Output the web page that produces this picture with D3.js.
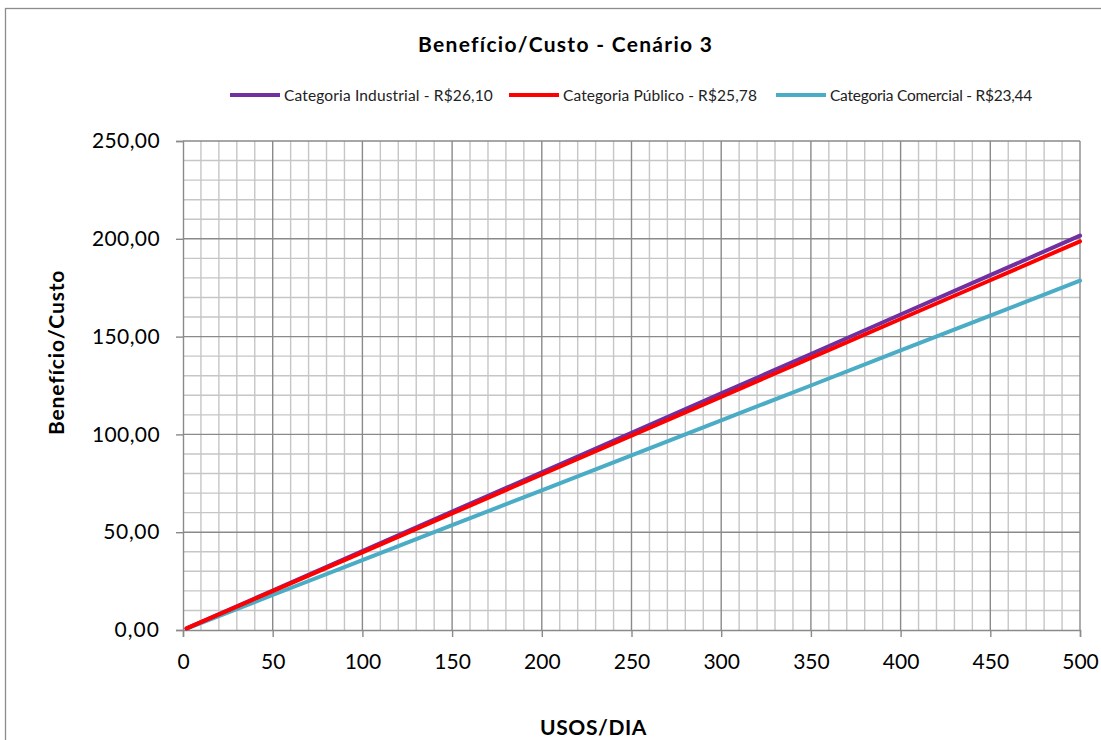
<!DOCTYPE html>
<html><head><meta charset="utf-8">
<script src="https://cdn.jsdelivr.net/npm/d3@7"></script>
<style>
html,body{margin:0;padding:0;background:#fff;}
svg{display:block;font-family:Lato,"Open Sans",sans-serif;}
</style></head>
<body>
<svg id="chart" width="1101" height="740"></svg>
<script>
const usos = [2, 50, 100, 150, 200, 250, 300, 350, 400, 450, 500];
const industrial = [0.8, 20.2, 40.3, 60.5, 80.6, 100.8, 121.0, 141.1, 161.3, 181.4, 201.6];
const publico = [0.8, 19.9, 39.7, 59.6, 79.5, 99.4, 119.2, 139.1, 159.0, 178.8, 198.7];
const comercial = [0.7, 17.9, 35.7, 53.6, 71.4, 89.3, 107.2, 125.0, 142.9, 160.7, 178.6];
const seriesNames = ["Categoria Industrial - R$26,10", "Categoria Público - R$25,78", "Categoria Comercial - R$23,44"];
const seriesColors = ["#7030A0", "#FF0000", "#4BACC6"];
const xTicks = [0, 50, 100, 150, 200, 250, 300, 350, 400, 450, 500];
const yTicks = [0, 50, 100, 150, 200, 250];

const svg = d3.select("#chart");
const x = d3.scaleLinear().domain([0, 500]).range([183, 1080]);
const y = d3.scaleLinear().domain([0, 250]).range([630, 141]);

function fit(sel, w) {
  const n = sel.text().length;
  const cur = sel.node().getComputedTextLength();
  sel.attr("letter-spacing", ((w - cur) / n).toFixed(3));
}

// outer border
svg.append("rect").attr("x", 5.5).attr("y", 8.5).attr("width", 1110).attr("height", 760)
  .attr("fill", "none").attr("stroke", "#8c8c8c").attr("stroke-width", 1.3);

// minor grid
const g = svg.append("g");
const minorX = d3.range(0, 501, 10).filter(v => v % 50 !== 0);
const minorY = d3.range(0, 251, 10).filter(v => v % 50 !== 0);
g.selectAll(".mx").data(minorX).join("line")
  .attr("x1", d => x(d)).attr("x2", d => x(d)).attr("y1", y(0)).attr("y2", y(250))
  .attr("stroke", "#c6c6c6").attr("stroke-width", 1.4);
g.selectAll(".my").data(minorY).join("line")
  .attr("x1", x(0)).attr("x2", x(500)).attr("y1", d => y(d)).attr("y2", d => y(d))
  .attr("stroke", "#c6c6c6").attr("stroke-width", 1.4);
// major grid
g.selectAll(".Mx").data(xTicks.slice(1)).join("line")
  .attr("x1", d => x(d)).attr("x2", d => x(d)).attr("y1", y(0)).attr("y2", y(250))
  .attr("stroke", "#8a8a8a").attr("stroke-width", 1.4);
g.selectAll(".My").data(yTicks.slice(1)).join("line")
  .attr("x1", x(0)).attr("x2", x(500)).attr("y1", d => y(d)).attr("y2", d => y(d))
  .attr("stroke", "#8a8a8a").attr("stroke-width", 1.4);

// axes
const xAxis = svg.append("g").attr("transform", `translate(0,${y(0)})`)
  .call(d3.axisBottom(x).tickValues(xTicks).tickSize(7).tickPadding(16).tickFormat(d3.format("d")));
const yAxis = svg.append("g").attr("transform", `translate(${x(0)},0)`)
  .call(d3.axisLeft(y).tickValues(yTicks).tickSize(7).tickPadding(16).tickFormat(d => d3.format(".2f")(d).replace(".", ",")));
[xAxis, yAxis].forEach(a => {
  a.select(".domain").attr("stroke", "#8a8a8a").attr("stroke-width", 1.4);
  a.selectAll(".tick line").attr("stroke", "#8a8a8a").attr("stroke-width", 1.4);
  a.selectAll(".tick text").attr("font-size", 21).attr("fill", "#000").attr("font-family", "Lato,'Open Sans',sans-serif");
});
xAxis.selectAll(".tick text").attr("dy", "0.75em");
yAxis.selectAll(".tick text").each(function() { fit(d3.select(this), d3.select(this).text().length * 11.35); });

// lines
const allSeries = [industrial, publico, comercial];
const line = d3.line().x((d, i) => x(usos[i])).y(d => y(d));
const drawOrder = [2, 0, 1];
drawOrder.forEach(k => {
  svg.append("path").datum(allSeries[k]).attr("d", line)
    .attr("fill", "none").attr("stroke", seriesColors[k]).attr("stroke-width", 4)
    .attr("stroke-linecap", "round");
});

// title
const title = svg.append("text").attr("x", 418).attr("y", 52)
  .attr("font-size", 21).attr("font-weight", "bold").text("Benefício/Custo - Cenário 3");
fit(title, 295);

// legend
const legX = [230, 509, 776];
const legW = [209, 194, 202];
seriesNames.forEach((n, i) => {
  svg.append("line").attr("x1", legX[i]).attr("x2", legX[i] + 50).attr("y1", 95).attr("y2", 95)
    .attr("stroke", seriesColors[i]).attr("stroke-width", 4);
  const t = svg.append("text").attr("x", legX[i] + 54).attr("y", 101).attr("font-size", 15.5).attr("fill", "#222").text(n);
  fit(t, legW[i]);
});

// axis titles
const xt = svg.append("text").attr("x", 540).attr("y", 735)
  .attr("font-size", 21).attr("font-weight", "bold").text("USOS/DIA");
fit(xt, 107);
const yt = svg.append("text").attr("transform", "translate(64,435) rotate(-90)")
  .attr("font-size", 21).attr("font-weight", "bold").text("Benefício/Custo");
fit(yt, 165);
</script>
</body></html>
